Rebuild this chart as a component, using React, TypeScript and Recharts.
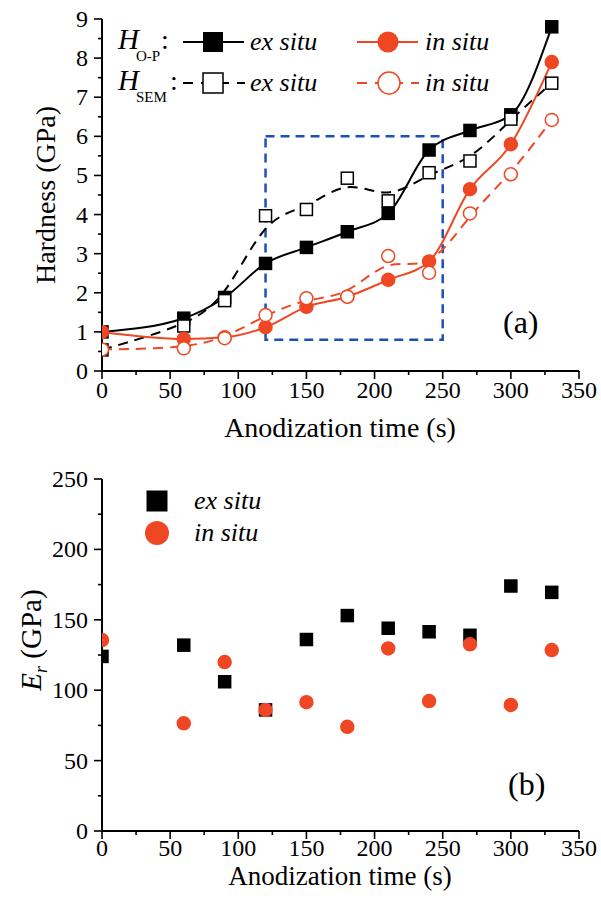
import React from 'react';
import {
  LineChart,
  Line,
  ScatterChart,
  Scatter,
  XAxis,
  YAxis,
  ReferenceArea,
  Legend,
} from 'recharts';

// anodization times (s)
const times = [0, 60, 90, 120, 150, 180, 210, 240, 270, 300, 330];

// hardness (GPa), panel (a)
const hOpExSitu = [1.0, 1.35, 1.88, 2.75, 3.16, 3.56, 4.03, 5.65, 6.15, 6.55, 8.8];
const hOpInSitu = [1.0, 0.82, 0.86, 1.12, 1.64, 1.9, 2.33, 2.8, 4.65, 5.8, 7.9];
const hSemExSitu = [0.54, 1.15, 1.8, 3.97, 4.13, 4.93, 4.35, 5.07, 5.37, 6.44, 7.36];
const hSemInSitu = [0.55, 0.58, 0.84, 1.43, 1.86, 1.9, 2.94, 2.51, 4.03, 5.03, 6.42];

// reduced modulus Er (GPa), panel (b)
const erExSitu = [124, 132, 106, 86, 136, 153, 144, 141.5, 139, 174, 169.5];
const erInSitu = [135.6, 76.5, 120, 86, 91.5, 74, 129.7, 92.3, 132.6, 89.5, 128.5];

const xTicks = [0, 25, 50, 75, 100, 125, 150, 175, 200, 225, 250, 275, 300, 325, 350];
const hardTicks = [0, 0.5, 1, 1.5, 2, 2.5, 3, 3.5, 4, 4.5, 5, 5.5, 6, 6.5, 7, 7.5, 8, 8.5, 9];
const erTicks = [0, 25, 50, 75, 100, 125, 150, 175, 200, 225, 250];

const SERIF = "'Liberation Serif', 'DejaVu Serif', 'Noto Serif', 'Times New Roman', serif";
const RED = '#ef4723';
const BLUE = '#1f4fb8';

const hardRows = times.map((t, i) => ({
  t,
  opEx: hOpExSitu[i],
  semEx: hSemExSitu[i],
  opIn: hOpInSitu[i],
  semIn: hSemInSitu[i],
}));
const erExRows = times.map((t, i) => ({ x: t, y: erExSitu[i] }));
const erInRows = times.map((t, i) => ({ x: t, y: erInSitu[i] }));

const isMult = (v: number, step: number) => Math.abs(v / step - Math.round(v / step)) < 1e-6;

const serif = (size: number, italic = false): React.CSSProperties => ({
  fontFamily: SERIF,
  fontSize: size,
  fontStyle: italic ? 'italic' : 'normal',
  fill: '#000',
});

function makeXTick(step: number, labelDy: number) {
  return (props: any) => {
    const { x, y, payload } = props;
    const major = isMult(payload.value, step);
    return (
      <g>
        <line x1={x} x2={x} y1={y} y2={y + (major ? 8 : 4)} stroke="#000" strokeWidth={1.6} />
        {major && (
          <text x={x} y={y + labelDy} textAnchor="middle" style={serif(24)}>
            {payload.value}
          </text>
        )}
      </g>
    );
  };
}

function makeYTick(step: number) {
  return (props: any) => {
    const { x, y, payload } = props;
    const major = isMult(payload.value, step);
    return (
      <g>
        <line x1={x} x2={x - (major ? 8 : 4)} y1={y} y2={y} stroke="#000" strokeWidth={1.6} />
        {major && (
          <text x={x - 14} y={y + 8} textAnchor="end" style={serif(24)}>
            {payload.value}
          </text>
        )}
      </g>
    );
  };
}

const squareDot = (filled: boolean) => (p: any) => (
  <rect
    key={p.key}
    x={p.cx - 6}
    y={p.cy - 6}
    width={12}
    height={12}
    fill={filled ? '#000' : '#fff'}
    stroke="#000"
    strokeWidth={1.5}
  />
);

const circleDot = (filled: boolean) => (p: any) => (
  <circle
    key={p.key}
    cx={p.cx}
    cy={p.cy}
    r={6.5}
    fill={filled ? RED : '#fff'}
    stroke={RED}
    strokeWidth={1.5}
  />
);

const axisLine = { stroke: '#000', strokeWidth: 2 };

function HardnessLegend() {
  return (
    <svg width={601} height={120} style={{ overflow: 'visible', display: 'block' }}>
      {/* row 1: H O-P */}
      <text x={118} y={49} style={serif(29, true)}>H</text>
      <text x={136} y={61} style={serif(15)}>O-P</text>
      <text x={161} y={49} style={serif(28)}>:</text>
      <line x1={183} x2={244} y1={42} y2={42} stroke="#000" strokeWidth={2} />
      <rect x={203} y={32} width={20} height={20} fill="#000" />
      <text x={250} y={50} style={serif(26, true)}>ex situ</text>
      <line x1={357} x2={418} y1={42} y2={42} stroke={RED} strokeWidth={2} />
      <circle cx={388} cy={42} r={10.5} fill={RED} />
      <text x={425} y={50} style={serif(26, true)}>in situ</text>
      {/* row 2: H SEM */}
      <text x={118} y={90} style={serif(29, true)}>H</text>
      <text x={136} y={102} style={serif(15)}>SEM</text>
      <text x={170} y={90} style={serif(28)}>:</text>
      <line x1={183} x2={245} y1={83} y2={83} stroke="#000" strokeWidth={2} strokeDasharray="10 8" />
      <rect x={203} y={73} width={20} height={20} fill="#fff" stroke="#000" strokeWidth={1.5} />
      <text x={250} y={91} style={serif(26, true)}>ex situ</text>
      <line x1={357} x2={419} y1={83} y2={83} stroke={RED} strokeWidth={2} strokeDasharray="10 8" />
      <circle cx={389} cy={83} r={11} fill="#fff" stroke={RED} strokeWidth={1.5} />
      <text x={425} y={91} style={serif(26, true)}>in situ</text>
    </svg>
  );
}

function ErLegend() {
  return (
    <svg width={601} height={120} style={{ overflow: 'visible', display: 'block' }}>
      <rect x={146.5} y={35.5} width={21} height={21} fill="#000" />
      <text x={194} y={54} style={serif(26, true)}>ex situ</text>
      <circle cx={157} cy={78} r={12} fill={RED} />
      <text x={194} y={86} style={serif(26, true)}>in situ</text>
    </svg>
  );
}

export default function App() {
  return (
    <div
      style={{
        position: 'absolute',
        left: 0,
        top: 0,
        width: 601,
        height: 910,
        background: '#fff',
        fontFamily: SERIF,
      }}
    >
      <LineChart width={601} height={455} data={hardRows} margin={{ top: 19, right: 22, bottom: 0, left: 0 }}>
        <XAxis
          dataKey="t"
          type="number"
          domain={[0, 350]}
          ticks={xTicks}
          interval={0}
          allowDataOverflow
          height={84}
          tickSize={0}
          tickMargin={0}
          tickLine={false}
          axisLine={axisLine}
          tick={makeXTick(50, 27)}
        />
        <YAxis
          type="number"
          domain={[0, 9]}
          ticks={hardTicks}
          interval={0}
          allowDataOverflow
          width={102}
          tickSize={0}
          tickMargin={0}
          tickLine={false}
          axisLine={axisLine}
          tick={makeYTick(1)}
        />
        <XAxis xAxisId="top" orientation="top" type="number" domain={[0, 350]} height={0} tick={false} tickLine={false} axisLine={axisLine} />
        <YAxis yAxisId="right" orientation="right" type="number" domain={[0, 9]} width={0} tick={false} tickLine={false} axisLine={axisLine} />
        <ReferenceArea
          x1={120}
          x2={250}
          y1={0.8}
          y2={6}
          fill="none"
          stroke={BLUE}
          strokeWidth={2.5}
          strokeDasharray="9 6"
          ifOverflow="visible"
        />
        <Line dataKey="opEx" type="monotone" stroke="#000" strokeWidth={2} dot={squareDot(true)} activeDot={false} isAnimationActive={false} />
        <Line dataKey="semEx" type="basis" stroke="#000" strokeWidth={2} strokeDasharray="10 7" dot={squareDot(false)} activeDot={false} isAnimationActive={false} />
        <Line dataKey="opIn" type="monotone" stroke={RED} strokeWidth={2} dot={circleDot(true)} activeDot={false} isAnimationActive={false} />
        <Line dataKey="semIn" type="basis" stroke={RED} strokeWidth={2} strokeDasharray="10 7" dot={circleDot(false)} activeDot={false} isAnimationActive={false} />
        <Legend layout="horizontal" verticalAlign="middle" align="center" content={() => <HardnessLegend />} wrapperStyle={{ left: 0, top: 0, width: 601, height: 120 }} />
        <text x={503} y={333} style={serif(32)}>(a)</text>
        <text x={340} y={437} textAnchor="middle" style={serif(28)}>Anodization time (s)</text>
        <text x={55} y={195} transform="rotate(-90, 55, 195)" textAnchor="middle" style={serif(28)}>Hardness (GPa)</text>
      </LineChart>
      <ScatterChart width={601} height={455} margin={{ top: 24, right: 22, bottom: 0, left: 0 }}>
        <XAxis
          dataKey="x"
          type="number"
          domain={[0, 350]}
          ticks={xTicks}
          interval={0}
          allowDataOverflow
          height={79}
          tickSize={0}
          tickMargin={0}
          tickLine={false}
          axisLine={axisLine}
          tick={makeXTick(50, 25)}
        />
        <YAxis
          dataKey="y"
          type="number"
          domain={[0, 250]}
          ticks={erTicks}
          interval={0}
          allowDataOverflow
          width={102}
          tickSize={0}
          tickMargin={0}
          tickLine={false}
          axisLine={axisLine}
          tick={makeYTick(50)}
        />
        <XAxis xAxisId="top" orientation="top" type="number" domain={[0, 350]} height={0} tick={false} tickLine={false} axisLine={axisLine} />
        <YAxis yAxisId="right" orientation="right" type="number" domain={[0, 250]} width={0} tick={false} tickLine={false} axisLine={axisLine} />
        <Scatter data={erExRows} shape={squareDot(true)} isAnimationActive={false} />
        <Scatter data={erInRows} shape={circleDot(true)} isAnimationActive={false} />
        <Legend layout="horizontal" verticalAlign="middle" align="center" content={() => <ErLegend />} wrapperStyle={{ left: 0, top: 0, width: 601, height: 120 }} />
        <text x={508} y={340} style={serif(32)}>(b)</text>
        <text x={340} y={430} textAnchor="middle" style={serif(27)}>Anodization time (s)</text>
        <text x={41} y={185} transform="rotate(-90, 41, 185)" textAnchor="middle" style={serif(29)}>
          <tspan style={{ fontStyle: 'italic' }}>E</tspan>
          <tspan style={{ fontStyle: 'italic', fontSize: 18 }} dy={6}>r</tspan>
          <tspan dy={-6}> (GPa)</tspan>
        </text>
      </ScatterChart>
    </div>
  );
}
